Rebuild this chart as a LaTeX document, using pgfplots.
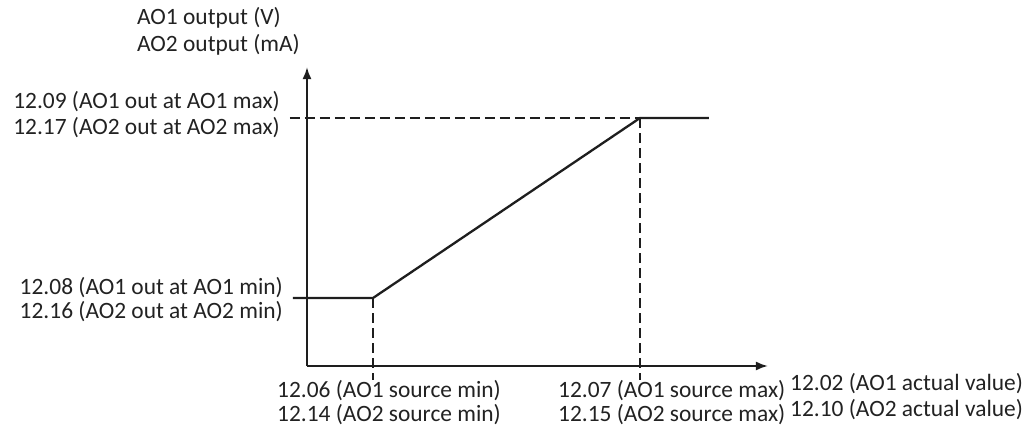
\documentclass[border=0pt]{standalone}
\usepackage{pgfplots}
\pgfplotsset{compat=1.18}
\usepackage{fontspec}
\setmainfont{Carlito}
\usetikzlibrary{arrows.meta}
\definecolor{ink}{HTML}{1E1E1E}
\definecolor{txt}{HTML}{222222}
\tikzset{lbl/.style={font=\fontsize{23.5}{26}\selectfont, text=txt, inner sep=0pt}}
\begin{document}
\begin{tikzpicture}
\begin{axis}[
  x=1bp, y=1bp,
  xmin=0, xmax=461, ymin=0, ymax=299,
  axis x line*=bottom, axis y line*=left,
  axis line style={ink, line width=2.1bp, -{Latex[length=12bp,width=9bp]}},
  xtick=\empty, ytick=\empty,
  clip=false,
]
% main characteristic
\addplot[ink, line width=2.3bp] coordinates {(-14,68) (66,68) (333,248) (402,248)};
% guide lines
\addplot[ink, line width=2.1bp, dash pattern=on 10bp off 5bp] coordinates {(-17,248) (333,248)};
\addplot[ink, line width=2.1bp, dash pattern=on 10bp off 5bp] coordinates {(66,68) (66,-14)};
\addplot[ink, line width=2.1bp, dash pattern=on 10bp off 5bp] coordinates {(333,248) (333,-14)};
% labels (axis cs: x = px-307, y = 366-py)
\node[lbl, anchor=base west] at (axis cs:-170,342) {AO1 output (V)};
\node[lbl, anchor=base west] at (axis cs:-170,315) {AO2 output (mA)};
\node[lbl, anchor=base east] at (axis cs:-27,258) {12.09 (AO1 out at AO1 max)};
\node[lbl, anchor=base east] at (axis cs:-27,232) {12.17 (AO2 out at AO2 max)};
\node[lbl, anchor=base east] at (axis cs:-24,72) {12.08 (AO1 out at AO1 min)};
\node[lbl, anchor=base east] at (axis cs:-24,48) {12.16 (AO2 out at AO2 min)};
\node[lbl, anchor=base west] at (axis cs:-30,-31) {12.06 (AO1 source min)};
\node[lbl, anchor=base west] at (axis cs:-30,-55) {12.14 (AO2 source min)};
\node[lbl, anchor=base west] at (axis cs:251,-31) {12.07 (AO1 source max)};
\node[lbl, anchor=base west] at (axis cs:251,-55) {12.15 (AO2 source max)};
\node[lbl, anchor=base west] at (axis cs:483,-24) {12.02 (AO1 actual value)};
\node[lbl, anchor=base west] at (axis cs:483,-50) {12.10 (AO2 actual value)};
\end{axis}
\useasboundingbox (-307bp,-70bp) rectangle (725bp,366bp);
\end{tikzpicture}
\end{document}
